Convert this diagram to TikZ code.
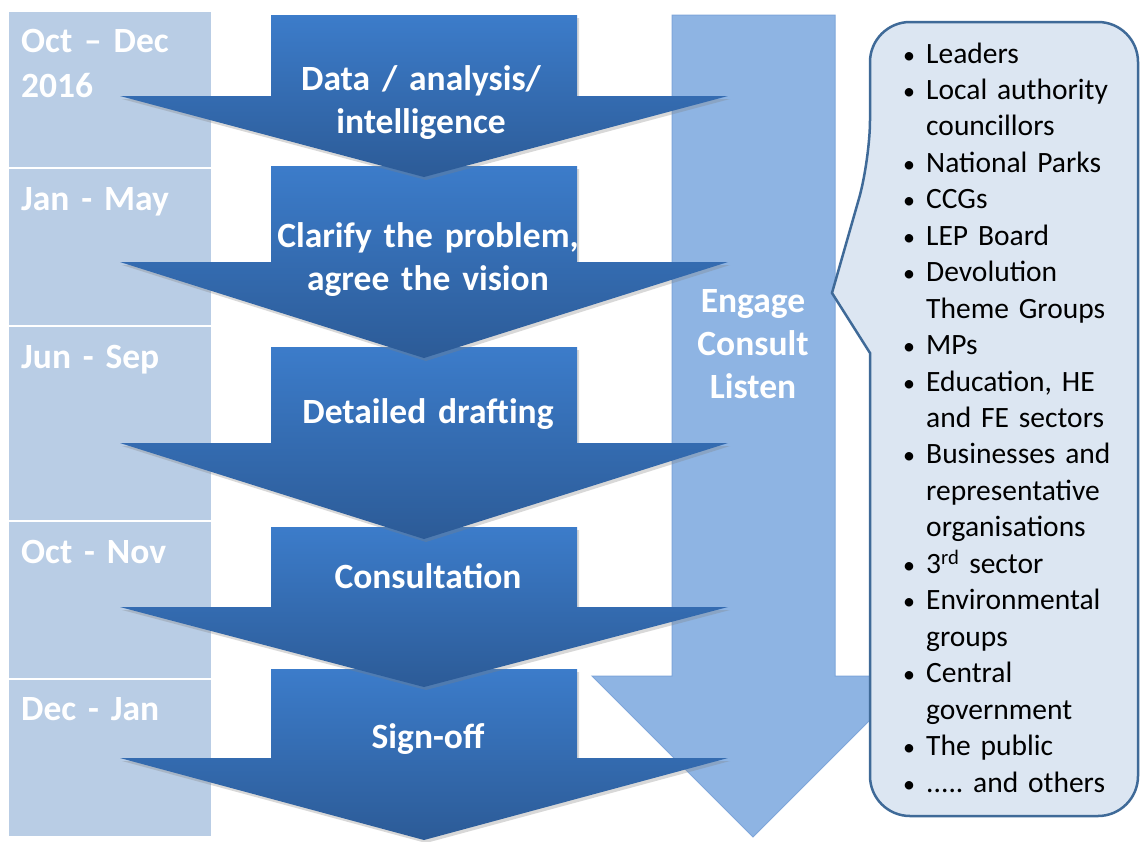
\documentclass[tikz,border=0pt]{standalone}
\usepackage{fontspec}
\setmainfont{Carlito}
\usepackage{tikz}
\usetikzlibrary{shadows}
\frenchspacing

\definecolor{datefill}{HTML}{B9CDE5}
\definecolor{stagetop}{HTML}{3C7CCA}
\definecolor{stagebottom}{HTML}{2C5B97}
\definecolor{engagefill}{HTML}{8EB4E3}
\definecolor{engageline}{HTML}{7EA6DA}
\definecolor{calloutfill}{HTML}{DCE6F2}
\definecolor{calloutline}{HTML}{3F6A98}

\tikzstyle{daterow}=[fill=datefill,draw=white,line width=2pt]
\tikzstyle{datetext}=[anchor=base west,text=white,inner sep=0pt,text width=190pt,
                      font=\bfseries\fontsize{35.5}{45}\selectfont]
\tikzstyle{stageshape}=[top color=stagetop,bottom color=stagebottom,
                        drop shadow={shadow xshift=2pt,shadow yshift=-3pt,opacity=0.3}]
\tikzstyle{stagetext}=[anchor=base,text=white,inner sep=0pt,text width=340pt,align=center,
                       font=\bfseries\fontsize{35.5}{43}\selectfont]
\tikzstyle{engagearrow}=[fill=engagefill,draw=engageline,line width=1pt]
\tikzstyle{callout}=[fill=calloutfill,draw=calloutline,line width=2.5pt]
\tikzstyle{stakeholders}=[anchor=base west,inner sep=0pt,text width=240pt,
                          font=\fontsize{29.5}{36.45}\selectfont]
% one stage arrow: top of body, shoulder of head, tip
\newcommand\stagearrow[3]{%
  \path[stageshape] (271,#1) -- (577,#1) -- (577,#2) -- (728,#2) -- (424,#3)
    -- (120,#2) -- (271,#2) -- cycle;}
% one bulleted entry of the stakeholder list
\newcommand\stk[1]{\hangindent=23pt\hangafter=1%
  \makebox[23pt][l]{\fontsize{24}{0}\selectfont\textbullet}#1\par}

\begin{document}
\begin{tikzpicture}[x=1pt,y=-1pt]
    \path[use as bounding box,fill=white] (0,0) rectangle (1140,841);

    % timeline column
    \draw[daterow] (8,11) rectangle (212,168);
    \draw[daterow] (8,168) rectangle (212,326);
    \draw[daterow] (8,326) rectangle (212,521);
    \draw[daterow] (8,521) rectangle (212,679);
    \draw[daterow] (8,679) rectangle (212,837);
    \node[datetext] (oct dec) at (21,52) {Oct -- Dec\\2016};
    \node[datetext] (jan may) at (21,210) {Jan - May};
    \node[datetext] (jun sep) at (21,368) {Jun - Sep};
    \node[datetext] (oct nov) at (21,563) {Oct - Nov};
    \node[datetext] (dec jan) at (21,720) {Dec - Jan};

    % engagement runs alongside all stages
    \draw[engagearrow] (672,15) -- (835,15) -- (835,676) -- (914,676) -- (753,837)
        -- (592,676) -- (672,676) -- cycle;
    \node[stagetext,text width=170pt] (engage) at (753,312) {Engage\\Consult\\Listen};

    % stages, last one first so each tip sits over the next body
    \stagearrow{669}{758}{840}
    \stagearrow{527}{607}{687}
    \stagearrow{347}{443}{539}
    \stagearrow{166}{262}{358}
    \stagearrow{15}{96}{177}
    \node[stagetext] (data analysis) at (421,90) {Data / analysis/\\intelligence};
    \node[stagetext] (clarify) at (428,247) {Clarify the problem,\\agree the vision};
    \node[stagetext] (drafting) at (428,423) {Detailed drafting};
    \node[stagetext] (consultation) at (428,588) {Consultation};
    \node[stagetext] (sign off) at (428,748) {Sign-off};

    % who is engaged
    \draw[callout] (870,353) [rounded corners=40pt] -- (870,816) -- (1138,816)
        -- (1138,22) -- (870,22) -- (870,160) [sharp corners] -- (832,293) -- cycle;
    \node[stakeholders] (stakeholder list) at (903,63) {%
        \stk{Leaders}
        \stk{Local authority\newline councillors}
        \stk{National Parks}
        \stk{CCGs}
        \stk{LEP Board}
        \stk{Devolution\newline Theme Groups}
        \stk{MPs}
        \stk{Education, HE\newline and FE sectors}
        \stk{Businesses and\newline representative\newline organisations}
        \stk{3\textsuperscript{rd} sector}
        \stk{Environmental\newline groups}
        \stk{Central\newline government}
        \stk{The public}
        \stk{..... and others}};
\end{tikzpicture}
\end{document}
